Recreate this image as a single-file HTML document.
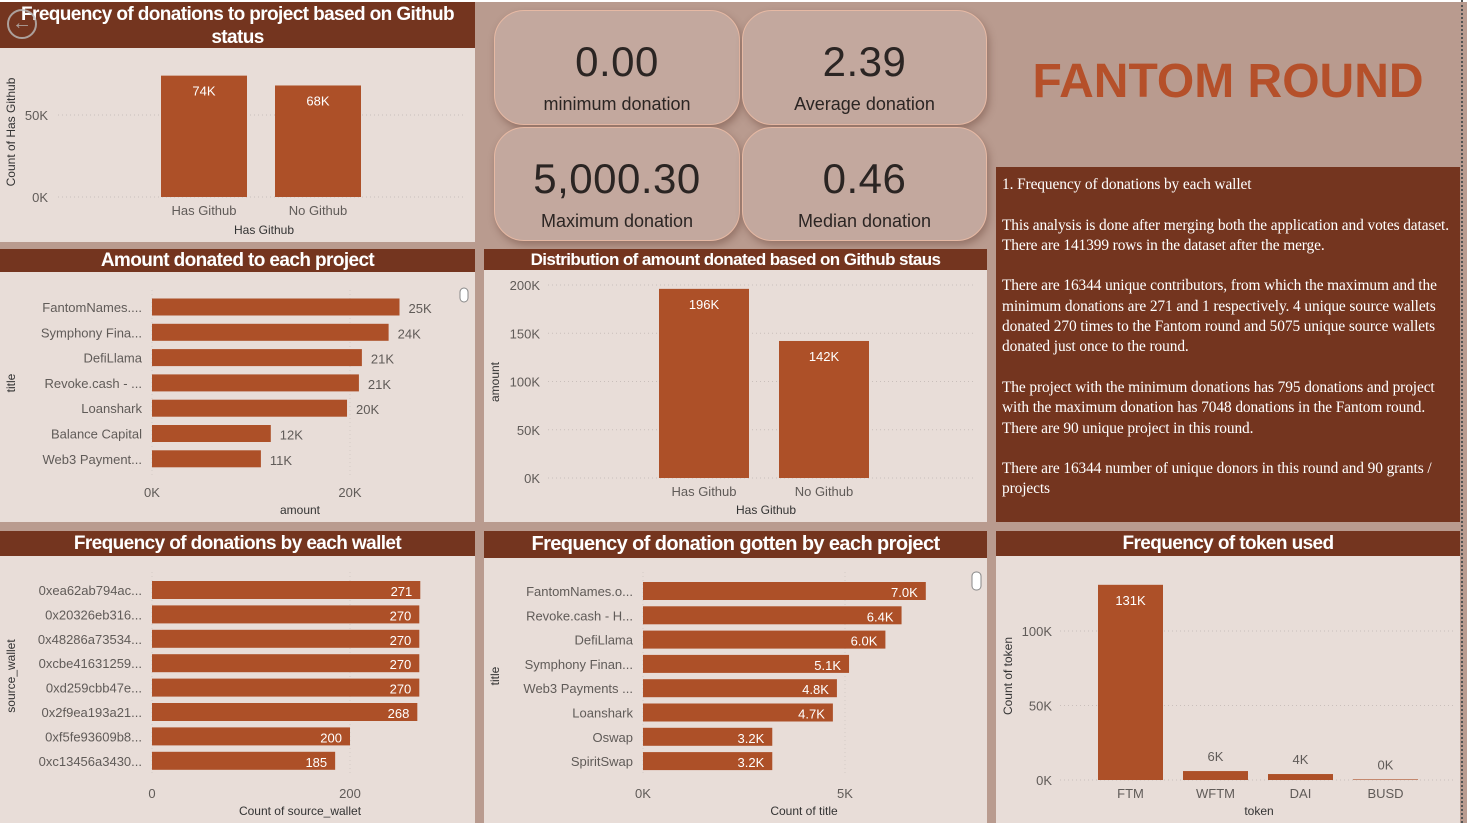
<!DOCTYPE html>
<html><head><meta charset="utf-8">
<style>
*{margin:0;padding:0;box-sizing:border-box}
body{width:1467px;height:823px;background:#b99b8f;position:relative;overflow:hidden;font-family:"Liberation Sans",sans-serif}
.abs{position:absolute}
.panel{position:absolute;background:#e8ddd8}
.tbar{position:absolute;background:#74351f;color:#fff;font-weight:bold;text-align:center;letter-spacing:-0.6px}
.card{position:absolute;background:#c3a89e;border:1px solid #e6b9a4;border-radius:30px;box-shadow:2px 4px 8px rgba(80,40,30,.35);text-align:center;color:#2b2523}
.card .v{font-size:42px;position:absolute;left:0;right:0;top:27px;letter-spacing:0.5px}
.card .l{font-size:18px;position:absolute;left:0;right:0;top:83px}
svg text{font-family:"Liberation Sans",sans-serif}
</style></head><body>
<div class="abs" style="left:0;top:0;width:1467px;height:2px;background:#fff"></div>

<div class="panel" style="left:0;top:2px;width:475px;height:240px"></div>
<div class="tbar" style="left:0;top:2px;width:475px;height:46px;font-size:19px;line-height:23px;padding-top:1px">Frequency of donations to project based on Github<br>status</div>
<div class="abs" style="left:7px;top:9px;width:30px;height:30px;border:2px solid #bbb;border-radius:50%;color:#bbb;font-size:20px;line-height:25px;text-align:center;opacity:.8">&#8592;</div>

<div class="panel" style="left:0;top:249px;width:475px;height:273px"></div>
<div class="tbar" style="left:0;top:249px;width:475px;height:23px;font-size:19px;line-height:23px">Amount donated to each project</div>

<div class="panel" style="left:0;top:531px;width:475px;height:292px"></div>
<div class="tbar" style="left:0;top:531px;width:475px;height:25px;font-size:19px;line-height:25px">Frequency of donations by each wallet</div>

<div class="card" style="left:494px;top:10px;width:246px;height:115px"><div class="v">0.00</div><div class="l">minimum donation</div></div>
<div class="card" style="left:742px;top:10px;width:245px;height:115px"><div class="v">2.39</div><div class="l">Average donation</div></div>
<div class="card" style="left:494px;top:127px;width:246px;height:114px"><div class="v">5,000.30</div><div class="l">Maximum donation</div></div>
<div class="card" style="left:742px;top:127px;width:245px;height:114px"><div class="v">0.46</div><div class="l">Median donation</div></div>

<div class="panel" style="left:484px;top:249px;width:503px;height:273px"></div>
<div class="tbar" style="left:484px;top:249px;width:503px;height:21px;font-size:17px;line-height:21px">Distribution of amount donated based on Github staus</div>

<div class="panel" style="left:484px;top:531px;width:503px;height:292px"></div>
<div class="tbar" style="left:484px;top:531px;width:503px;height:27px;font-size:20px;line-height:27px">Frequency of donation gotten by each project</div>

<div class="abs" style="left:996px;top:54px;width:464px;text-align:center;color:#b5502a;font-weight:bold;font-size:48px">FANTOM ROUND</div>
<div class="abs" style="left:996px;top:167px;width:464px;height:355px;background:#74351f;color:#fff;font-family:'Liberation Serif',serif;font-size:15.4px;line-height:20.3px;padding:8px 6px;letter-spacing:-0.1px">
1. Frequency of donations by each wallet<br><br>This analysis is done after merging both the application and votes dataset. There are 141399 rows in the dataset after the merge.<br><br>There are 16344 unique contributors, from which the maximum and the minimum donations are 271 and 1 respectively. 4 unique source wallets donated 270 times to the Fantom round and 5075 unique source wallets donated just once to the round.<br><br>The project with the minimum donations has 795 donations and project with the maximum donation has 7048 donations in the Fantom round. There are 90 unique project in this round.<br><br>There are 16344 number of unique donors in this round and 90 grants / projects</div>
<div class="panel" style="left:996px;top:531px;width:464px;height:292px"></div>
<div class="tbar" style="left:996px;top:531px;width:464px;height:25px;font-size:19px;line-height:25px">Frequency of token used</div>
<div class="abs" style="left:1461px;top:0;width:0;height:823px;border-left:2px dotted #555"></div>

<svg id="chart" class="abs" style="left:0;top:0" width="1467" height="823"></svg>

<script>
const ghCats = ["Has Github","No Github"];
const ghVals = [74,68];
const ghTicks = [0,50];
const amtCats = ["FantomNames....","Symphony Fina...","DefiLlama","Revoke.cash - ...","Loanshark","Balance Capital","Web3 Payment..."];
const amtVals = [25.0,23.9,21.2,20.9,19.7,12.0,11.0];
const amtLabels = ["25K","24K","21K","21K","20K","12K","11K"];
const amtTicks = [0,20];
const walCats = ["0xea62ab794ac...","0x20326eb316...","0x48286a73534...","0xcbe41631259...","0xd259cbb47e...","0x2f9ea193a21...","0xf5fe93609b8...","0xc13456a3430..."];
const walVals = [271,270,270,270,270,268,200,185];
const walTicks = [0,200];
const distCats = ["Has Github","No Github"];
const distVals = [196,142];
const distTicks = [0,50,100,150,200];
const projCats = ["FantomNames.o...","Revoke.cash - H...","DefiLlama","Symphony Finan...","Web3 Payments ...","Loanshark","Oswap","SpiritSwap"];
const projVals = [7.0,6.4,6.0,5.1,4.8,4.7,3.2,3.2];
const projTicks = [0,5];
const tokCats = ["FTM","WFTM","DAI","BUSD"];
const tokVals = [131,6,4,0.4];
const tokLabels = ["131K","6K","4K","0K"];
const tokTicks = [0,50,100];

const NS="http://www.w3.org/2000/svg";
const svg=document.getElementById('chart');
const BAR="#ad5028", TXT="#605b58";
function mk(tag,attrs,parent){const e=document.createElementNS(NS,tag);for(const k in attrs)e.setAttribute(k,attrs[k]);(parent||svg).appendChild(e);return e;}
function txt(x,y,s,opts){const t=mk('text',Object.assign({x:x,y:y,'font-size':13,fill:TXT},opts||{}));t.textContent=s;return t;}

function vchart(name,cats,vals,labels,ticks,o){
  const g=mk('g',{});
  
  
  const ys=v=>o.y0+(o.y1-o.y0)*v/ticks[ticks.length-1];
  ticks.forEach(t=>{
    const yy=ys(t);
    const l=mk('line',{x1:o.gx0,x2:o.gx1,y1:yy,y2:yy,stroke:'#c9bfbb','stroke-dasharray':'1 3'},g);
    
    
    const tl=txt(o.tx,yy+5,t+'K',{'text-anchor':'end'});g.appendChild(tl);
    
    
  });
  cats.forEach((c,i)=>{
    const x=o.bx+i*o.step, top=ys(vals[i]);
    const r=mk('rect',{x:x,y:top,width:o.bw,height:o.y0-top,fill:BAR},g);
    
    
    const inside=(o.y0-top)>30;
    const vl=txt(x+o.bw/2,inside?top+20:top-10,labels[i],{'text-anchor':'middle',fill:inside?'#fff':TXT});g.appendChild(vl);
    
    
    const cl=txt(x+o.bw/2,o.y0+18,c,{'text-anchor':'middle'});g.appendChild(cl);
    
    
  });
  const xt=txt(o.xtx,o.xty,o.xtitle,{'text-anchor':'middle','font-size':12,fill:'#333'});g.appendChild(xt);
  
  
  const yt=txt(0,0,o.ytitle,{'text-anchor':'middle','font-size':12,fill:'#333',transform:'translate('+o.ytx+','+o.yty+') rotate(-90)'});g.appendChild(yt);
  
  
}

function hchart(name,cats,vals,labels,ticks,tickFmt,o){
  const g=mk('g',{});
  
  
  const xs=v=>o.x0+(o.x1-o.x0)*v/ticks[ticks.length-1];
  ticks.forEach(t=>{
    const xx=xs(t);
    const l=mk('line',{x1:xx,x2:xx,y1:o.gy0,y2:o.gy1,stroke:'#d3cac6','stroke-dasharray':'1 3'},g);
    
    
    const tl=txt(xx,o.ty,tickFmt(t),{'text-anchor':'middle'});g.appendChild(tl);
    
    
  });
  cats.forEach((c,i)=>{
    const cy=o.cy0+i*o.step, w=xs(vals[i])-o.x0;
    const r=mk('rect',{x:o.x0,y:cy-o.bh/2,width:w,height:o.bh,fill:BAR},g);
    
    
    let vl;
    if(o.inside) vl=txt(o.x0+w-8,cy+6,labels[i],{'text-anchor':'end',fill:'#fff'});
    else vl=txt(o.x0+w+9,cy+6,labels[i],{'text-anchor':'start'});
    g.appendChild(vl);
    
    
    const cl=txt(o.lx,cy+5,c,{'text-anchor':'end'});g.appendChild(cl);
    
    
  });
  const xt=txt(o.xtx,o.xty,o.xtitle,{'text-anchor':'middle','font-size':12,fill:'#333'});g.appendChild(xt);
  
  
  const yt=txt(0,0,o.ytitle,{'text-anchor':'middle','font-size':12,fill:'#333',transform:'translate('+o.ytx+','+o.yty+') rotate(-90)'});g.appendChild(yt);
  
  
}

vchart('github-frequency-chart',ghCats,ghVals,ghVals.map(v=>v+'K'),ghTicks,
 {y0:197,y1:115,gx0:58,gx1:465,tx:48,bx:161,bw:86,step:114,xtitle:'Has Github',xtx:264,xty:234,ytitle:'Count of Has Github',ytx:15,yty:132});
vchart('distribution-chart',distCats,distVals,distVals.map(v=>v+'K'),distTicks,
 {y0:478,y1:285,gx0:548,gx1:975,tx:540,bx:659,bw:90,step:120,xtitle:'Has Github',xtx:766,xty:514,ytitle:'amount',ytx:499,yty:382});
vchart('token-chart',tokCats,tokVals,tokLabels,tokTicks,
 {y0:780,y1:631,gx0:1060,gx1:1455,tx:1052,bx:1098,bw:65,step:85,xtitle:'token',xtx:1259,xty:815,ytitle:'Count of token',ytx:1012,yty:676});
hchart('amount-project-chart',amtCats,amtVals,amtLabels,amtTicks,t=>t+'K',
 {x0:152,x1:350,gy0:290,gy1:475,ty:497,cy0:307,step:25.3,bh:17,lx:142,inside:false,xtitle:'amount',xtx:300,xty:514,ytitle:'title',ytx:15,yty:383});
hchart('wallet-frequency-chart',walCats,walVals,walVals.map(String),walTicks,t=>String(t),
 {x0:152,x1:350,gy0:572,gy1:775,ty:798,cy0:590,step:24.4,bh:18,lx:142,inside:true,xtitle:'Count of source_wallet',xtx:300,xty:815,ytitle:'source_wallet',ytx:15,yty:676});
hchart('project-frequency-chart',projCats,projVals,projVals.map(v=>v.toFixed(1)+'K'),projTicks,t=>t+'K',
 {x0:643,x1:845,gy0:572,gy1:775,ty:798,cy0:591,step:24.3,bh:18,lx:633,inside:true,xtitle:'Count of title',xtx:804,xty:815,ytitle:'title',ytx:499,yty:676});
const s1=mk('rect',{x:460,y:288,width:8,height:14,rx:4,fill:'#fff',stroke:'#888'});


const s2=mk('rect',{x:972,y:572,width:9,height:18,rx:4,fill:'#fff',stroke:'#888'});


</script>
</body></html>
